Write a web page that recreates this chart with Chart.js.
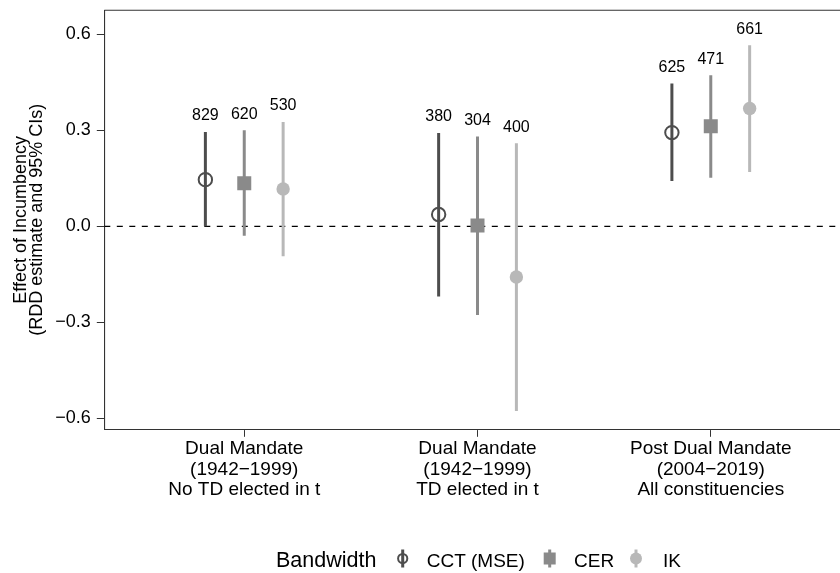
<!DOCTYPE html>
<html>
<head>
<meta charset="utf-8">
<script src="https://cdn.jsdelivr.net/npm/chart.js@4.4.0/dist/chart.umd.min.js"></script>
<style>
  html, body { margin: 0; padding: 0; background: #fff; overflow: hidden; }
  #rdd-chart { display: block; }
</style>
</head>
<body>
<canvas id="rdd-chart" width="840" height="573"></canvas>
<script>
"use strict";
const groupLabels = [
  ["Dual Mandate", "(1942\u22121999)", "No TD elected in t"],
  ["Dual Mandate", "(1942\u22121999)", "TD elected in t"],
  ["Post Dual Mandate", "(2004\u22122019)", "All constituencies"],
];
const methodNames = ["CCT (MSE)", "CER", "IK"];
const yTickValues = [-0.6, -0.3, 0.0, 0.3, 0.6];
const yTickLabels = ["\u22120.6", "\u22120.3", "0.0", "0.3", "0.6"];

const cctEstimate = [0.146, 0.037, 0.293];
const cctLower = [0.0, -0.219, 0.142];
const cctUpper = [0.295, 0.292, 0.446];
const cctN = [829, 380, 625];

const cerEstimate = [0.135, 0.003, 0.313];
const cerLower = [-0.029, -0.277, 0.152];
const cerUpper = [0.3, 0.281, 0.472];
const cerN = [620, 304, 471];

const ikEstimate = [0.117, -0.158, 0.368];
const ikLower = [-0.093, -0.577, 0.17];
const ikUpper = [0.326, 0.26, 0.566];
const ikN = [530, 400, 661];

const fontFamily = "'Liberation Sans', Arial, Helvetica, sans-serif";
Chart.defaults.font.family = fontFamily;
Chart.defaults.color = "#000";

const methods = [
  { name: methodNames[0], est: cctEstimate, lo: cctLower, hi: cctUpper, n: cctN, color: "#4d4d4d", style: "open" },
  { name: methodNames[1], est: cerEstimate, lo: cerLower, hi: cerUpper, n: cerN, color: "#8a8a8a", style: "square" },
  { name: methodNames[2], est: ikEstimate, lo: ikLower, hi: ikUpper, n: ikN, color: "#b8b8b8", style: "dot" },
];
const dodge = 1 / 6;
const xOf = (groupIndex, methodIndex) => groupIndex + 1 + (methodIndex - 1) * dodge;

const datasets = [];
methods.forEach((m, mi) => {
  datasets.push({
    label: m.name + " CI",
    data: m.est.flatMap((_, gi) => [
      { x: xOf(gi, mi), y: m.lo[gi] },
      { x: xOf(gi, mi), y: m.hi[gi] },
      { x: xOf(gi, mi), y: null },
    ]),
    showLine: true,
    spanGaps: false,
    borderColor: m.color,
    borderWidth: 3,
    borderCapStyle: "butt",
    pointRadius: 0,
    order: 2,
  });
});
methods.forEach((m, mi) => {
  const isSquare = m.style === "square";
  datasets.push({
    label: m.name,
    data: m.est.map((v, gi) => ({ x: xOf(gi, mi), y: v })),
    pointStyle: isSquare ? "rect" : "circle",
    pointRadius: isSquare ? 9.9 : 6.7,
    pointBackgroundColor: m.style === "open" ? "rgba(0,0,0,0)" : m.color,
    pointBorderColor: m.color,
    pointBorderWidth: m.style === "open" ? 2 : 0,
    showLine: false,
    order: 0,
  });
});
// reference line at zero
datasets.push({
  label: "zero",
  data: [{ x: 0.4, y: 0 }, { x: 3.6, y: 0 }],
  showLine: true,
  borderColor: "#000",
  borderWidth: 1.4,
  borderDash: [6, 6.5],
  pointRadius: 0,
  order: 3,
});

const sampleSizeLabels = {
  id: "sampleSizeLabels",
  afterDatasetsDraw(chart) {
    const { ctx, scales } = chart;
    ctx.save();
    ctx.font = "16px " + fontFamily;
    ctx.fillStyle = "#000";
    ctx.textAlign = "center";
    ctx.textBaseline = "middle";
    methods.forEach((m, mi) => {
      m.n.forEach((n, gi) => {
        const px = scales.x.getPixelForValue(xOf(gi, mi));
        const py = scales.y.getPixelForValue(m.hi[gi]);
        ctx.fillText(String(n), px, py - 16);
      });
    });
    ctx.restore();
  },
};

const panelFrame = {
  id: "panelFrame",
  afterDraw(chart) {
    const { ctx, chartArea } = chart;
    ctx.save();
    ctx.strokeStyle = "#333";
    ctx.lineWidth = 1.1;
    ctx.beginPath();
    ctx.moveTo(chartArea.left, chartArea.top);
    ctx.lineTo(chartArea.right, chartArea.top);
    ctx.stroke();
    ctx.restore();
  },
};

const bottomLegend = {
  id: "bottomLegend",
  afterDraw(chart) {
    const { ctx } = chart;
    const baseY = 566.5;
    const keyY = 558.5;
    ctx.save();
    ctx.fillStyle = "#000";
    ctx.textBaseline = "alphabetic";
    ctx.textAlign = "left";
    ctx.font = "21.5px " + fontFamily;
    ctx.fillText("Bandwidth", 276, baseY);
    const keyX = [402.7, 549.7, 636];
    const textX = [426.7, 574, 663];
    ctx.font = "19px " + fontFamily;
    methods.forEach((m, mi) => {
      const kx = keyX[mi];
      ctx.strokeStyle = m.color;
      ctx.fillStyle = m.color;
      if (m.style === "square") {
        ctx.fillRect(kx - 6, keyY - 6, 12, 12);
      } else if (m.style === "open") {
        ctx.lineWidth = 2;
        ctx.beginPath();
        ctx.arc(kx, keyY, 4.6, 0, Math.PI * 2);
        ctx.stroke();
      } else {
        ctx.beginPath();
        ctx.arc(kx, keyY, 6, 0, Math.PI * 2);
        ctx.fill();
      }
      ctx.lineWidth = 3;
      ctx.beginPath();
      ctx.moveTo(kx, keyY - 9);
      ctx.lineTo(kx, keyY + 9);
      ctx.stroke();
      ctx.fillStyle = "#000";
      ctx.fillText(m.name, textX[mi], baseY);
    });
    ctx.restore();
  },
};

new Chart(document.getElementById("rdd-chart"), {
  type: "scatter",
  data: { datasets: datasets },
  plugins: [sampleSizeLabels, panelFrame, bottomLegend],
  options: {
    responsive: false,
    animation: false,
    devicePixelRatio: 1,
    events: [],
    layout: { autoPadding: false, padding: { top: 10.3, left: 0, right: 0, bottom: 0 } },
    plugins: {
      legend: { display: false },
      tooltip: { enabled: false },
    },
    scales: {
      x: {
        type: "linear",
        min: 0.4,
        max: 3.554,
        afterBuildTicks: (scale) => {
          scale.ticks = [1, 2, 3].map((v) => ({ value: v }));
        },
        afterFit: (scale) => {
          scale.height = 573 - 429.3;
          scale.paddingLeft = 0;
          scale.paddingRight = 0;
        },
        ticks: {
          autoSkip: false,
          maxRotation: 0,
          padding: 1.3,
          color: "#000",
          font: { size: 19, lineHeight: "20.8px" },
          callback: (value, index) => groupLabels[index],
        },
        grid: { drawOnChartArea: false, drawTicks: true, tickLength: 7.5, tickColor: "#333", tickWidth: 1 },
        border: { display: true, color: "#333", width: 1.1 },
      },
      y: {
        min: -0.634,
        max: 0.675,
        afterBuildTicks: (scale) => {
          scale.ticks = yTickValues.map((v) => ({ value: v }));
        },
        afterFit: (scale) => {
          scale.width = 104.3;
          scale.paddingTop = 0;
          scale.paddingBottom = 0;
        },
        ticks: {
          padding: 6,
          color: "#000",
          font: { size: 18 },
          callback: (value, index) => yTickLabels[index],
        },
        grid: { drawOnChartArea: false, drawTicks: true, tickLength: 7.5, tickColor: "#333", tickWidth: 1 },
        border: { display: true, color: "#333", width: 1.1 },
        title: {
          display: true,
          text: ["Effect of Incumbency", "(RDD estimate and 95% CIs)"],
          color: "#000",
          font: { size: 18, lineHeight: "16.5px" },
          padding: { top: 12.75, bottom: 0 },
        },
      },
    },
  },
});
</script>
</body>
</html>
